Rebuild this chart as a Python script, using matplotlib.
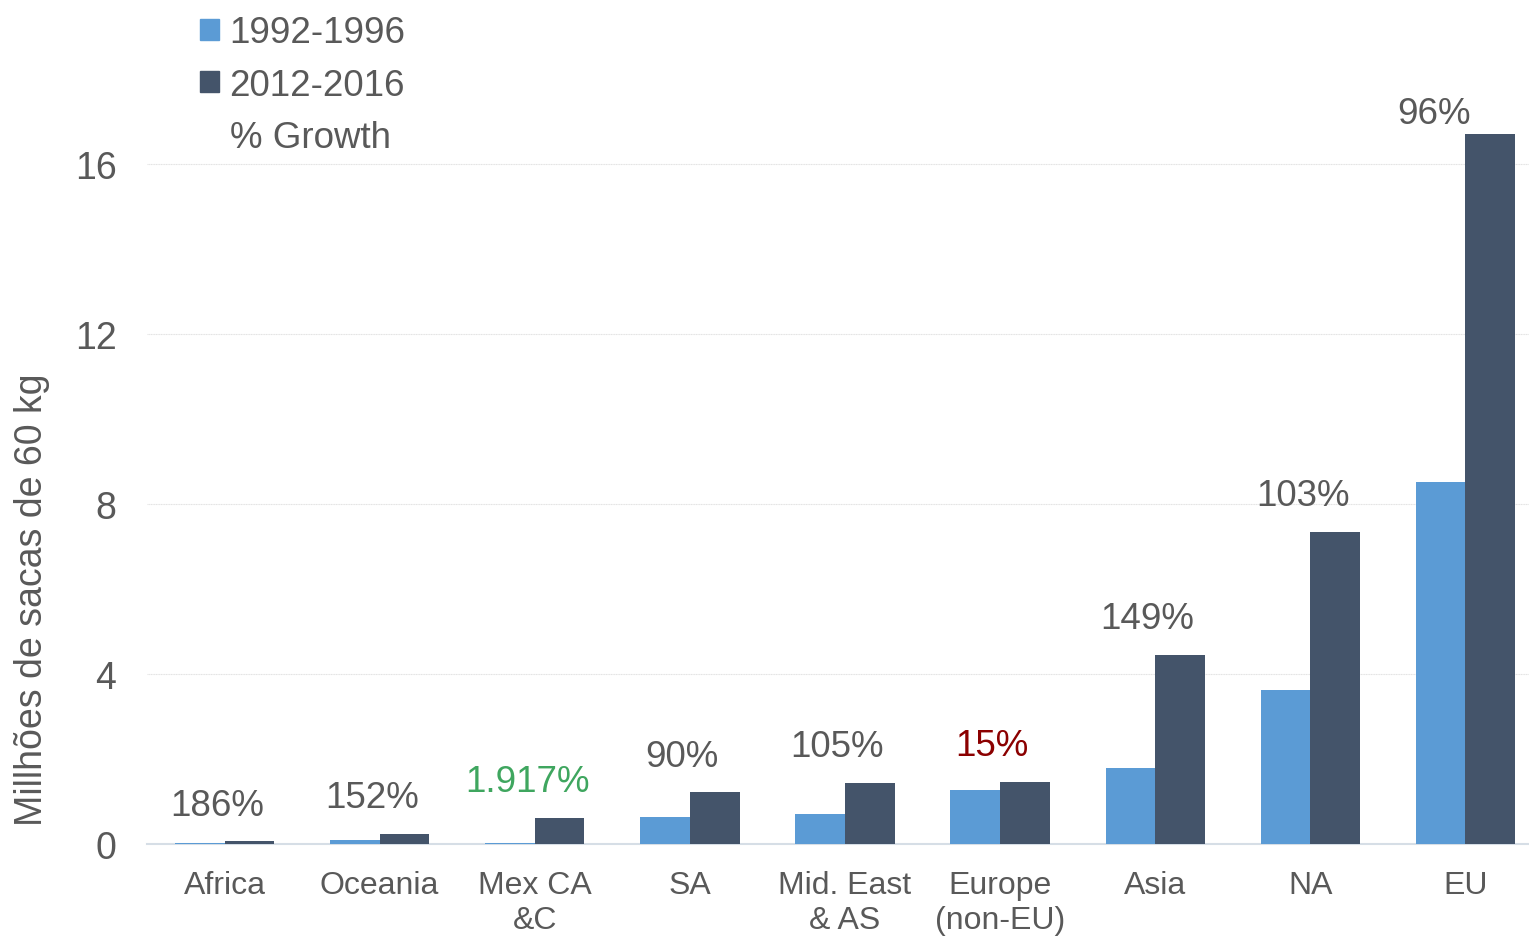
import numpy as np
import matplotlib
matplotlib.use("Agg")
import matplotlib.pyplot as plt
from matplotlib.patches import Patch

plt.rcParams["font.family"] = ["Liberation Sans", "DejaVu Sans"]

regions = ["Africa", "Oceania", "Mex CA\n&C", "SA", "Mid. East\n& AS",
           "Europe\n(non-EU)", "Asia", "NA", "EU"]
early = [0.02, 0.09, 0.03, 0.64, 0.71, 1.27, 1.79, 3.62, 8.52]
late = [0.06, 0.24, 0.61, 1.22, 1.44, 1.46, 4.45, 7.34, 16.7]
growth = ["186%", "152%", "1.917%", "90%", "105%", "15%", "149%", "103%", "96%"]
growth_colors = ["#595959", "#595959", "#3FA65F", "#595959", "#595959",
                 "#8B0000", "#595959", "#595959", "#595959"]

c_early = "#5B9BD5"
c_late = "#44546A"
txt = "#595959"

fig = plt.figure(figsize=(15.29, 9.37), dpi=100)
ax = fig.add_axes([147 / 1529, (937 - 845) / 937, 1 - 147 / 1529, (845 - 80) / 937])

x = np.arange(len(regions))
w = 0.32
ax.bar(x - w / 2, early, w, color=c_early, label="1992-1996", zorder=3)
ax.bar(x + w / 2, late, w, color=c_late, label="2012-2016", zorder=3)

for i in range(len(regions)):
    top = max(early[i], late[i])
    off = 0.5 if i == len(regions) - 1 else 0.85
    dx = -0.2 if i == len(regions) - 1 else -0.05
    ax.text(x[i] + dx, top + off, growth[i], ha="center", va="center",
            fontsize=26.5, color=growth_colors[i])

ax.set_xlim(-0.5, 8.41)
ax.set_ylim(0, 18)
ax.set_yticks([0, 4, 8, 12, 16])
ax.set_xticks(x)
ax.set_xticklabels(regions, linespacing=1.22)
ax.tick_params(axis="both", length=0, colors=txt)
ax.tick_params(axis="x", pad=19, labelsize=23)
ax.tick_params(axis="y", pad=22, labelsize=27)
ax.grid(axis="y", color="#E3E3E3", linewidth=0.8, linestyle=(0, (1, 0.5)), zorder=0)
for s in ["top", "right", "left"]:
    ax.spines[s].set_visible(False)
ax.spines["bottom"].set_color("#D6DEE6")
ax.spines["bottom"].set_linewidth(1.5)
ax.set_ylabel("Millhões de sacas de 60 kg", fontsize=27, color=txt)
ax.yaxis.set_label_coords(-0.070, 0.32)

handles = [Patch(color=c_early), Patch(color=c_late), Patch(color="none")]
leg = fig.legend(handles, ["1992-1996", "2012-2016", "% Growth"],
                 loc="upper left", bbox_to_anchor=(167 / 1529, 1.018), frameon=False,
                 fontsize=26.5, handlelength=0.5, handleheight=0.5, handletextpad=0.3,
                 labelspacing=0.47, labelcolor=txt)

fig.savefig("out.png", dpi=100)
